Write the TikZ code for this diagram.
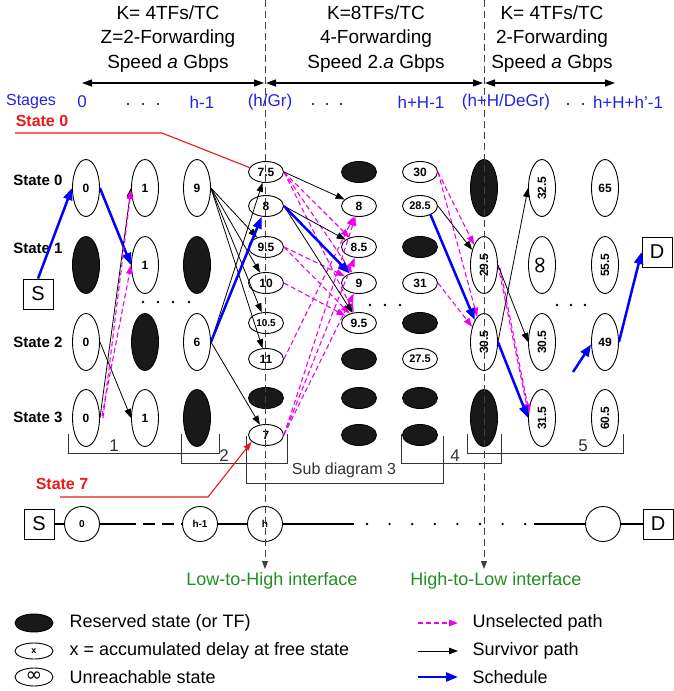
\documentclass[tikz,border=0pt]{standalone}
\usepackage{fontspec}
\setmainfont{Liberation Sans}
\newfontfamily\djv{DejaVu Sans}
\usetikzlibrary{shapes.geometric,arrows.meta}
\definecolor{mag}{RGB}{238,0,238}
\definecolor{sblue}{RGB}{0,0,255}
\definecolor{tblue}{RGB}{35,35,225}
\definecolor{sred}{RGB}{235,25,25}
\definecolor{sgreen}{RGB}{35,140,35}
\definecolor{resv}{RGB}{25,25,25}
\newcommand{\fsz}[1]{\fontsize{#1}{#1}\selectfont}
\newcommand{\fszl}[2]{\fontsize{#1}{#2}\selectfont}
\begin{document}
\begin{tikzpicture}[x=1pt,y=-1pt,
  vst/.style={ellipse,draw,line width=0.9pt,minimum width=27pt,minimum height=57pt,inner sep=0pt,font=\bfseries\fsz{12}},
  vres/.style={vst,fill=resv},
  hst/.style={ellipse,draw,line width=0.9pt,minimum width=35pt,minimum height=21pt,inner sep=0pt,font=\bfseries\fsz{12}},
  hres/.style={hst,fill=resv},
  circ/.style={circle,draw,line width=0.9pt,minimum size=35pt,inner sep=0pt,font=\bfseries\fsz{10}},
  boxn/.style={draw,line width=0.9pt,minimum size=30pt,inner sep=0pt,font=\fsz{20}},
  surv/.style={-{Triangle[length=9pt,width=6.5pt]},line width=0.8pt},
  sched/.style={-{Triangle[length=12pt,width=9pt]},line width=2.5pt,draw=sblue},
  unsel/.style={-{Triangle[length=9pt,width=6.5pt]},line width=1.1pt,draw=mag,dash pattern=on 5pt off 3pt},
  hdr/.style={align=center,font=\fszl{19}{24.5}},
  stg/.style={text=tblue,font=\fsz{17}},
  stl/.style={font=\bfseries\fsz{15}},
  brk/.style={line width=1pt,draw=black!80},
  blab/.style={font=\fsz{17},text=black!80},
  grn/.style={text=sgreen,font=\fsz{18}},
  lg/.style={anchor=west,font=\fsz{18}},
  vdash/.style={line width=0.9pt,draw=black!75,dash pattern=on 7pt off 4pt,-{Triangle[length=8pt,width=6pt]}},
  redl/.style={draw=sred,line width=1.1pt},
  dotc/.style={circle,fill=black,inner sep=0pt,minimum size=2.6pt}
]
\useasboundingbox (0,0) rectangle (673,691);

% ---------- header ----------
\node[hdr] (hd1) at (168,39) {K= 4TFs/TC\\Z=2-Forwarding\\Speed \textit{a} Gbps};
\node[hdr] (hd2) at (376,39) {K=8TFs/TC\\4-Forwarding\\Speed 2.\textit{a} Gbps};
\node[hdr] (hd3) at (552,39) {K= 4TFs/TC\\2-Forwarding\\Speed \textit{a} Gbps};
\coordinate (a1) at (82,83); \coordinate (a2l) at (264,83); \coordinate (a2r) at (266,83);
\coordinate (a3l) at (483,83); \coordinate (a3r) at (485,83); \coordinate (a4) at (615,83);
\draw[line width=1.1pt,{Triangle[length=10pt,width=7pt]}-{Triangle[length=10pt,width=7pt]}] (a1) -- (a2l);
\draw[line width=1.1pt,{Triangle[length=10pt,width=7pt]}-{Triangle[length=10pt,width=7pt]}] (a2r) -- (a3l);
\draw[line width=1.1pt,{Triangle[length=10pt,width=7pt]}-{Triangle[length=10pt,width=7pt]}] (a3r) -- (a4);

% ---------- stages row ----------
\node[stg,font=\fsz{16}] (sg) at (31,102) {Stages};
\node[stg] (sg0) at (82,102) {0};
\node[stg] (sg1) at (202,102) {h-1};
\node[stg] (sg2) at (270,102) {(h/Gr)};
\node[stg] (sg3) at (421,102) {h+H-1};
\node[stg] (sg4) at (506,102) {(h+H/DeGr)};
\node[stg] (sg5) at (628,102) {h+H+h\symbol{39}-1};
\foreach \i/\xx in {1/128,2/143,3/158,4/313,5/327,6/341,7/568,8/583}
  \node[dotc,minimum size=2.4pt] (sd\i) at (\xx,104) {};

% ---------- state labels ----------
\node[stl] (st0) at (38,180) {State 0};
\node[stl] (st1) at (38,248) {State 1};
\node[stl] (st2) at (38,342) {State 2};
\node[stl] (st3) at (38,417) {State 3};

% ---------- nodes: stages 0, 1, h-1 ----------
\node[vst]  (s0r0) at (86,188) {0};
\node[vres] (s0r1) at (86,265) {};
\node[vst]  (s0r2) at (86,342) {0};
\node[vst]  (s0r3) at (86,418) {0};
\node[vst]  (s1r0) at (145,188) {1};
\node[vst]  (s1r1) at (145,265) {1};
\node[vres] (s1r2) at (145,342) {};
\node[vst]  (s1r3) at (145,418) {1};
\node[vst]  (h1r0) at (197,188) {9};
\node[vres] (h1r1) at (197,265) {};
\node[vst]  (h1r2) at (197,342) {6};
\node[vres] (h1r3) at (197,418) {};
\node[boxn] (St) at (38,294) {S};

% ---------- column h ----------
\node[hst] (c1) at (266,172) {7.5};
\node[hst] (c2) at (266,206) {8};
\node[hst] (c3) at (266,247) {9.5};
\node[hst] (c4) at (266,283) {10};
\node[hst,font=\bfseries\fsz{10}] (c5) at (266,323) {10.5};
\node[hst] (c6) at (266,359) {11};
\node[hres] (c7) at (266,398) {};
\node[hst] (c8) at (266,435) {7};
% column h+1
\node[hres] (d1) at (359,172) {};
\node[hst] (d2) at (359,206) {8};
\node[hst] (d3) at (359,247) {8.5};
\node[hst] (d4) at (359,283) {9};
\node[hst] (d5) at (359,323) {9.5};
\node[hres] (d6) at (359,359) {};
\node[hres] (d7) at (359,398) {};
\node[hres] (d8) at (359,435) {};
% column h+H-1
\node[hst] (e1) at (420,172) {30};
\node[hst,font=\bfseries\fsz{11}] (e2) at (420,206) {28.5};
\node[hres] (e3) at (420,247) {};
\node[hst] (e4) at (420,283) {31};
\node[hres] (e5) at (420,323) {};
\node[hst,font=\bfseries\fsz{11}] (e6) at (420,359) {27.5};
\node[hres] (e7) at (420,398) {};
\node[hres] (e8) at (420,435) {};

% ---------- right columns ----------
\node[vres] (f1) at (484,188) {};
\node[vst]  (f2) at (484,265) {\rotatebox{90}{29.5}};
\node[vst]  (f3) at (484,342) {\rotatebox{90}{30.5}};
\node[vres] (f4) at (484,418) {};
\node[vst]  (g1) at (542,188) {\rotatebox{90}{32.5}};
\node[vst]  (g2) at (542,265) {\rotatebox{90}{\normalfont\djv\fsz{24}∞}};
\node[vst]  (g3) at (542,342) {\rotatebox{90}{30.5}};
\node[vst]  (g4) at (542,418) {\rotatebox{90}{31.5}};
\node[vst]  (k1) at (605,188) {65};
\node[vst]  (k2) at (605,265) {\rotatebox{90}{55.5}};
\node[vst]  (k3) at (605,342) {49};
\node[vst]  (k4) at (605,418) {\rotatebox{90}{60.5}};
\node[boxn] (Dt) at (657,252) {D};

% dots between rows
\foreach \i/\xx/\yy in {1/143/302,2/158/302,3/173/302,4/189/302,5/370/305,6/385/305,7/400/305,8/557/305,9/571/305,10/585/305}
  \node[dotc] (md\i) at (\xx,\yy) {};

% ---------- sub diagram 1 edges ----------
\draw[sched] (St.north) -- (s0r0.west);
\draw[sched] (s0r0.east) -- (s1r1.west);
\draw[surv] (s0r2.east) -- (s1r3.west);
\draw[surv] (s0r3.east) -- (s1r0.west);
\draw[unsel] ([xshift=3pt]s0r3.east) -- ([yshift=-2pt]s1r0.west);
\draw[unsel] ([xshift=2pt,yshift=2pt]s0r3.east) -- (s1r1.west);

% ---------- sub diagram 2 edges ----------
\draw[surv] (h1r0.east) -- (c3);
\draw[surv] (h1r0.east) -- (c4);
\draw[surv] (h1r0.east) -- (c5);
\draw[surv] (h1r0.east) -- (c6);
\draw[surv] (h1r2.east) -- (c1);
\draw[sched] (h1r2.east) -- (c2);
\draw[surv] (h1r2.east) -- (c8);

% ---------- sub diagram 3 edges ----------
\draw[unsel] (c1.east) -- (d3);
\draw[unsel] (c1.east) -- (d4);
\draw[unsel] (c1.east) -- (d5);
\draw[unsel] (c3.east) -- (d4);
\draw[unsel] (c3.east) -- (d5);
\draw[unsel] (c4.east) -- (d5);
\draw[unsel] (c6.east) -- (d2);
\draw[unsel] (c8.east) -- (d2);
\draw[unsel] (c8.east) -- (d3);
\draw[unsel] (c8.east) -- (d4);
\draw[surv] (c1.east) -- (d2);
\draw[surv] (c2.east) -- (d3);
\draw[surv] (c2.east) -- (d5);
\draw[sched] (c2.east) -- (d4);

% ---------- sub diagram 4 edges ----------
\draw[unsel] (e1.east) -- (f2);
\draw[unsel] (e1.east) -- (f3);
\draw[unsel] (e4.east) -- (f3);
\draw[surv] (e2.east) -- (f2);
\draw[sched] (e2.-40) -- (f3);

% ---------- sub diagram 5 edges ----------
\draw[unsel] (f2.east) -- (g4.160);
\draw[unsel] ([xshift=2pt,yshift=-3pt]f2.east) -- ([xshift=1pt]g4.160);
\draw[surv] (f3.east) -- (g1.west);
\draw[surv] (f2.east) -- (g3.west);
\draw[sched] (f3.east) -- (g4.west);
\coordinate (bst) at (573,372);
\draw[sched] (bst) -- (k3.190);
\draw[sched] (k3.east) -- (Dt.west);

% ---------- brackets ----------
\draw[brk] (68,434) -- (68,453) -- (219,453) -- (219,434);
\node[blab] (bl1) at (114,446) {1};
\draw[brk] (181,434) -- (181,463) -- (287,463) -- (287,434);
\node[blab] (bl2) at (224,456) {2};
\draw[brk] (246,436) -- (246,483) -- (443,483) -- (443,436);
\node[blab,font=\fsz{16}] (bl3) at (344,470) {Sub diagram 3};
\draw[brk] (401,434) -- (401,463) -- (501,463) -- (501,434);
\node[blab] (bl4) at (455,456) {4};
\draw[brk] (467,434) -- (467,453) -- (623,453) -- (623,434);
\node[blab] (bl5) at (583,446) {5};

% ---------- red annotations ----------
\node[font=\bfseries\fsz{16},text=sred] (rs0) at (42,121) {State 0};
\coordinate (r0a) at (15,133); \coordinate (r0b) at (162,133);
\draw[redl] (r0a) -- (r0b) -- (c1.165);
\node[font=\bfseries\fsz{16},text=sred] (rs7) at (62,484) {State 7};
\coordinate (r7a) at (60,497); \coordinate (r7b) at (208,497);
\draw[redl,-{Triangle[length=9pt,width=6pt]}] (r7a) -- (r7b) -- (c8.205);

% ---------- bottom chain ----------
\node[boxn] (bS) at (39,524) {S};
\node[circ] (b0) at (82,524) {0};
\node[circ] (bh1) at (200,524) {h-1};
\node[circ] (bh) at (265,524) {h};
\node[circ] (be) at (603,524) {};
\node[boxn] (bD) at (658,524) {D};
\coordinate (m1) at (124,524); \coordinate (m2) at (354,524); \coordinate (m3) at (534,524);
\draw[line width=1.1pt] (bS) -- (b0) -- (m1);
\draw[line width=1.1pt,dash pattern=on 12pt off 7pt] (m1) -- (bh1);
\draw[line width=1.1pt] (bh1) -- (bh) -- (m2);
\foreach \i in {0,...,7} \node[dotc] (bd\i) at (367+\i*22.6,524) {};
\draw[line width=1.1pt] (m3) -- (be) -- (bD);

% ---------- interface lines ----------
\coordinate (v1t) at (265,0); \coordinate (v1b) at (265,569);
\coordinate (v2t) at (484,0); \coordinate (v2b) at (484,569);
\draw[vdash] (v1t) -- (v1b);
\draw[vdash] (v2t) -- (v2b);
\node[grn] (lh) at (272,581) {Low-to-High interface};
\node[grn] (hl) at (496,581) {High-to-Low interface};

% ---------- legend ----------
\node[hres,minimum width=38pt,minimum height=18pt] (L1) at (34,623) {};
\node[hst,minimum width=38pt,minimum height=16pt,font=\bfseries\fsz{9}] (L2) at (34,651) {x};
\node[hst,minimum width=38pt,minimum height=18pt] (L3) at (34,677) {\normalfont\djv\fsz{20}∞};
\node[lg] (L1t) at (66,623) {Reserved state (or TF)};
\node[lg] (L2t) at (66,651) {x = accumulated delay at free state};
\node[lg] (L3t) at (66,677) {Unreachable state};
\coordinate (La1) at (418,623); \coordinate (Lb1) at (458,623);
\coordinate (La2) at (418,651); \coordinate (Lb2) at (458,651);
\coordinate (La3) at (418,677); \coordinate (Lb3) at (458,677);
\draw[unsel] (La1) -- (Lb1);
\draw[surv] (La2) -- (Lb2);
\draw[sched] (La3) -- (Lb3);
\node[lg] (R1t) at (469,623) {Unselected path};
\node[lg] (R2t) at (469,651) {Survivor path};
\node[lg] (R3t) at (469,677) {Schedule};
\end{tikzpicture}
\end{document}
